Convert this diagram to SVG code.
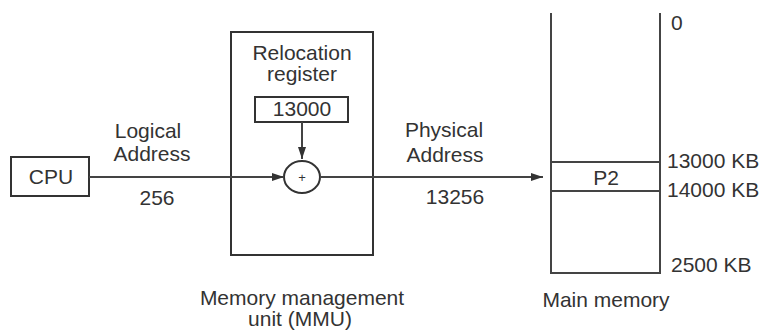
<svg xmlns="http://www.w3.org/2000/svg" width="770" height="333" viewBox="0 0 770 333">
<defs>
<style>
text{font-family:"Liberation Sans",Arial,sans-serif;font-size:21px;fill:#333;}
.m{text-anchor:middle;}
.box{fill:none;stroke:#333;stroke-width:2;}
.ln{fill:none;stroke:#444;stroke-width:2;}
</style>
<marker id="ah" markerWidth="12" markerHeight="8" refX="12" refY="4" orient="auto" markerUnits="userSpaceOnUse">
<path d="M0,0 L12,4 L0,8 Z" fill="#333"/>
</marker>
</defs>
<rect width="770" height="333" fill="#fff"/>
<g id="cpu">
<rect class="box" x="11" y="157" width="78" height="39"/>
<text class="m" x="51" y="184">CPU</text>
</g>
<g id="mmu">
<rect class="box" x="231" y="32" width="142" height="223"/>
<text class="m" x="302" y="60">Relocation</text>
<text class="m" x="302" y="81">register</text>
<text class="m" x="302" y="305">Memory management</text>
<text class="m" x="300" y="326">unit (MMU)</text>
</g>
<g id="relocation-register">
<rect class="box" x="255" y="97" width="93" height="25"/>
<text class="m" x="302" y="116">13000</text>
</g>
<g id="adder">
<ellipse class="box" cx="302" cy="177" rx="18" ry="16"/>
<text class="m" x="302" y="182" style="font-size:13px">+</text>
</g>
<g id="main-memory">
<path class="ln" d="M551,13 V273 H660 V13"/>
<line class="ln" x1="551" y1="162" x2="660" y2="162"/>
<line class="ln" x1="551" y1="191" x2="660" y2="191"/>
<text class="m" x="606" y="185">P2</text>
<text x="671" y="30">0</text>
<text x="667" y="168">13000 KB</text>
<text x="667" y="197">14000 KB</text>
<text x="671" y="272">2500 KB</text>
<text class="m" x="606" y="307">Main memory</text>
</g>
<g id="connectors">
<line class="ln" x1="89" y1="177" x2="284" y2="177" marker-end="url(#ah)"/>
<line class="ln" x1="302" y1="122" x2="302" y2="159" marker-end="url(#ah)"/>
<line class="ln" x1="320" y1="177" x2="543" y2="177" marker-end="url(#ah)"/>
</g>
<g id="labels">
<text class="m" x="148" y="138">Logical</text>
<text class="m" x="152" y="161">Address</text>
<text class="m" x="157" y="205">256</text>
<text class="m" x="444" y="137">Physical</text>
<text class="m" x="445" y="162">Address</text>
<text class="m" x="455" y="204">13256</text>
</g>
</svg>
